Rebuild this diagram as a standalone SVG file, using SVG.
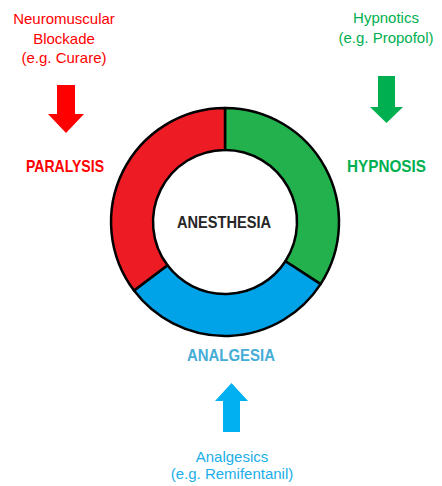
<svg xmlns="http://www.w3.org/2000/svg" width="442" height="486" viewBox="0 0 442 486">
<style>
text{font-family:"Liberation Sans",Arial,sans-serif;text-anchor:middle}
.sm{font-size:15px}
.bd{font-size:16.5px;font-weight:bold}
.seg{stroke:#000;stroke-width:2.5;stroke-linejoin:round}
</style>
<rect width="442" height="486" fill="#fff"/>
<g id="ring">
<path class="seg" fill="#22B14C" d="M225,108 A114,114 0 0 1 320.6,284.1 L285.4,261.2 A72,72 0 0 0 225,150 Z"/>
<path class="seg" fill="#00A2E8" d="M320.6,284.1 A114,114 0 0 1 134,290.6 L167.5,265.3 A72,72 0 0 0 285.4,261.2 Z"/>
<path class="seg" fill="#ED1C24" d="M134,290.6 A114,114 0 0 1 225,108 L225,150 A72,72 0 0 0 167.5,265.3 Z"/>
</g>
<g id="anesthesia"><text class="bd" x="224" y="228" fill="#262626" textLength="94" lengthAdjust="spacingAndGlyphs">ANESTHESIA</text></g>
<g id="neuromuscular" fill="#FF0000">
<text class="sm" x="64" y="24">Neuromuscular</text>
<text class="sm" x="64" y="44">Blockade</text>
<text class="sm" x="64" y="63">(e.g. Curare)</text>
</g>
<g id="paralysis"><text class="bd" x="65" y="172" fill="#FF0000" textLength="78" lengthAdjust="spacingAndGlyphs">PARALYSIS</text></g>
<g id="hypnotics" fill="#00B050">
<text class="sm" x="386" y="23">Hypnotics</text>
<text class="sm" x="386" y="43">(e.g. Propofol)</text>
</g>
<g id="hypnosis"><text class="bd" x="386.5" y="172" fill="#00B050" textLength="79" lengthAdjust="spacingAndGlyphs">HYPNOSIS</text></g>
<g id="analgesia"><text class="bd" x="231" y="361" fill="#45ADD6" textLength="88" lengthAdjust="spacingAndGlyphs">ANALGESIA</text></g>
<g id="analgesics" fill="#1AAEE8">
<text class="sm" x="232" y="462">Analgesics</text>
<text class="sm" x="232" y="479">(e.g. Remifentanil)</text>
</g>
<g id="connectors">
<polygon fill="#FF0000" points="57,85 75,85 75,114 84,114 66,133 48,114 57,114"/>
<polygon fill="#00B050" points="378,76 395,76 395,107 403,107 386.5,123 370,107 378,107"/>
<polygon fill="#00B0F0" points="223,432 240,432 240,401 248,401 231.5,383 215,401 223,401"/>
</g>
</svg>
